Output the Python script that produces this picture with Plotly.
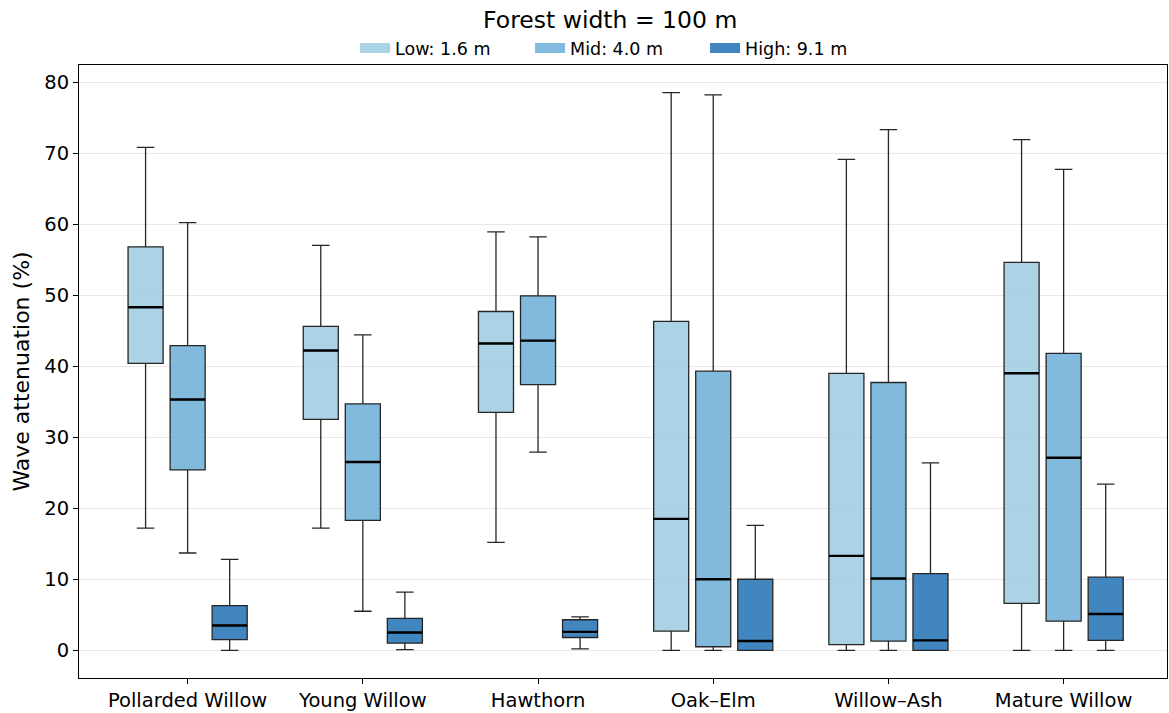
import plotly.graph_objects as go

categories = ["Pollarded Willow", "Young Willow", "Hawthorn", "Oak–Elm", "Willow–Ash", "Mature Willow"]
series_names = ["Low: 1.6 m", "Mid: 4.0 m", "High: 9.1 m"]

low_lower = [17.2, 17.2, 15.2, 0.0, 0.0, 0.0]
low_q1 = [40.4, 32.5, 33.5, 2.7, 0.8, 6.6]
low_med = [48.3, 42.2, 43.2, 18.5, 13.3, 39.0]
low_q3 = [56.8, 45.6, 47.7, 46.3, 39.0, 54.6]
low_upper = [70.8, 57.0, 58.9, 78.5, 69.1, 71.9]

mid_lower = [13.7, 5.5, 27.9, 0.0, 0.0, 0.0]
mid_q1 = [25.4, 18.3, 37.4, 0.5, 1.3, 4.1]
mid_med = [35.3, 26.5, 43.6, 10.0, 10.1, 27.1]
mid_q3 = [42.9, 34.7, 49.9, 39.3, 37.7, 41.8]
mid_upper = [60.2, 44.4, 58.2, 78.2, 73.3, 67.7]

high_lower = [0.0, 0.1, 0.2, 0.0, 0.0, 0.0]
high_q1 = [1.5, 1.0, 1.8, 0.0, 0.0, 1.4]
high_med = [3.5, 2.5, 2.6, 1.3, 1.4, 5.1]
high_q3 = [6.3, 4.5, 4.3, 10.0, 10.8, 10.3]
high_upper = [12.8, 8.2, 4.7, 17.6, 26.4, 23.4]

fills = ["rgba(158,202,225,0.85)", "rgba(107,174,214,0.85)", "rgba(33,113,181,0.85)"]
offsets = [-0.24, 0.0, 0.24]
box_w = 0.2

stats = [
    (low_lower, low_q1, low_med, low_q3, low_upper),
    (mid_lower, mid_q1, mid_med, mid_q3, mid_upper),
    (high_lower, high_q1, high_med, high_q3, high_upper),
]

fig = go.Figure()
idx = list(range(len(categories)))
for s, (lo, q1, med, q3, up) in enumerate(stats):
    xs = [i + offsets[s] for i in idx]
    fig.add_trace(go.Box(
        x=xs, lowerfence=lo, q1=q1, median=med, q3=q3, upperfence=up,
        name=series_names[s], width=box_w, whiskerwidth=0.5,
        fillcolor=fills[s], line=dict(color="#262626", width=1.3),
        boxpoints=False, hoverinfo="skip", showlegend=False,
    ))
    # legend entry as a filled rectangle
    fig.add_trace(go.Scatter(
        x=[None], y=[None], mode="lines", name=series_names[s],
        line=dict(color=fills[s], width=14),
        showlegend=True, hoverinfo="skip",
    ))
for s, (lo, q1, med, q3, up) in enumerate(stats):
    mx, my = [], []
    for i in idx:
        c = i + offsets[s]
        mx += [c - box_w / 2, c + box_w / 2, None]
        my += [med[i], med[i], None]
    fig.add_trace(go.Scatter(x=mx, y=my, mode="lines",
                             line=dict(color="black", width=2.4),
                             showlegend=False, hoverinfo="skip"))

fig.update_layout(
    width=1169, height=713,
    margin=dict(l=79, r=1, t=65, b=31),
    paper_bgcolor="white", plot_bgcolor="white",
    font=dict(family="DejaVu Sans", size=18, color="black"),
    boxmode="overlay",
    title=dict(text="Forest width = 100 m", x=0.522, xanchor="center", y=0.972, yanchor="middle",
               font=dict(size=23.5)),
    legend=dict(orientation="h", x=0.495, xanchor="center", y=1.0275, yanchor="middle",
                font=dict(size=17.5), itemwidth=30, traceorder="normal",
                entrywidth=130, entrywidthmode="pixels",
                bgcolor="rgba(0,0,0,0)"),
    showlegend=True,
)
fig.update_xaxes(
    range=[-0.62, 5.59], tickvals=idx, ticktext=categories,
    showgrid=False, zeroline=False, showline=True, mirror=True,
    linecolor="black", linewidth=1, ticks="outside", ticklen=5, tickcolor="black",
    tickfont=dict(size=19.5),
)
fig.update_yaxes(
    range=[-3.9, 82.4], tick0=0, dtick=10,
    title=dict(text="Wave attenuation (%)", font=dict(size=22), standoff=8),
    showgrid=True, gridcolor="#e8e8e8", gridwidth=1, zeroline=False,
    showline=True, mirror=True, linecolor="black", linewidth=1,
    ticks="outside", ticklen=5, tickcolor="black", tickfont=dict(size=19.5),
)

fig.write_html("out.html")
